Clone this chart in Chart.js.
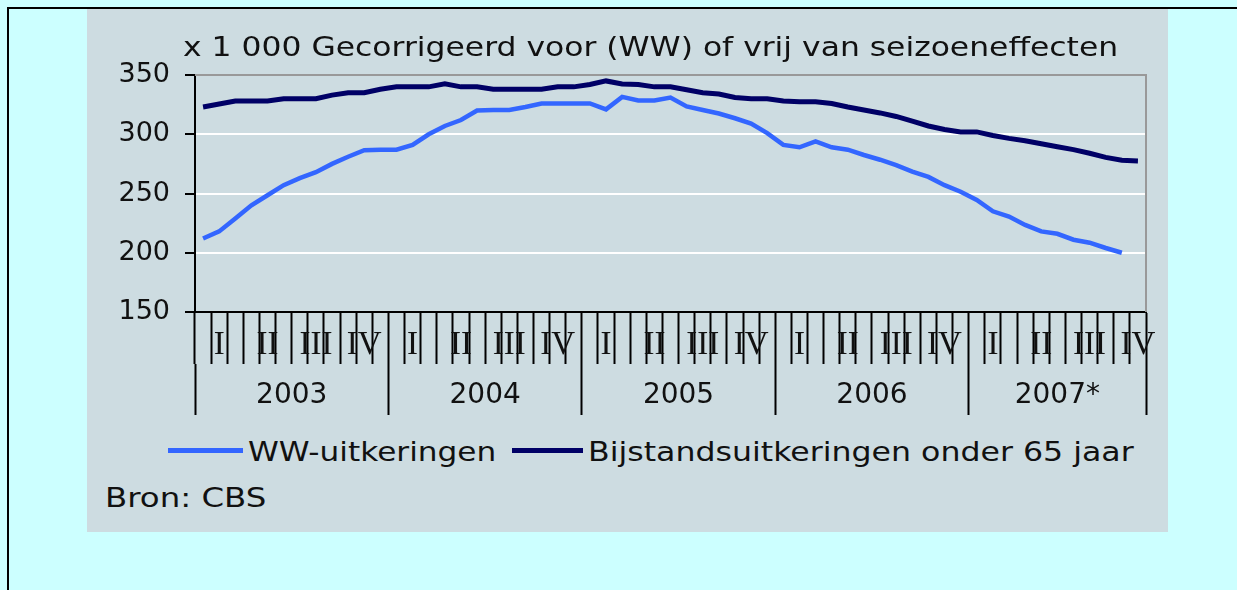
<!DOCTYPE html>
<html lang="nl">
<head>
<meta charset="UTF-8">
<title>WW- en bijstandsuitkeringen</title>
<script src="https://cdn.jsdelivr.net/npm/chart.js"></script>
<style>
    body { margin: 0; width: 1237px; height: 590px; overflow: hidden; background: #ccffff; font-family: 'DejaVu Sans', sans-serif; color: #111; }
    #frame { position: absolute; left: 7px; top: 7px; width: 1230px; height: 583px; border-left: 2px solid #000; border-top: 2px solid #000; }
    #panel { position: absolute; left: 87px; top: 9px; width: 1081px; height: 523px; background: #cddce1; }
    #chart { position: absolute; left: 0; top: 0; }
    .txt { position: absolute; font-size: 27px; line-height: 27px; white-space: nowrap; transform-origin: 0 50%; }
    .swatch { position: absolute; height: 5px; }
</style>
</head>
<body>
<div id="frame"></div>
<div id="panel">
    <canvas id="chart" width="1081" height="420"></canvas>
    <div class="txt" style="left:96px; top:24px; transform:scaleX(1.163);">x 1 000 Gecorrigeerd voor (WW) of vrij van seizoeneffecten</div>
    <div class="swatch" style="left:81px; top:439px; width:75px; background:#3366ff;"></div>
    <div class="txt" style="left:161px; top:429px; transform:scaleX(1.154);">WW-uitkeringen</div>
    <div class="swatch" style="left:425px; top:439px; width:71px; background:#000066;"></div>
    <div class="txt" style="left:501px; top:429px; transform:scaleX(1.17);">Bijstandsuitkeringen onder 65 jaar</div>
    <div class="txt" style="left:18px; top:475px; transform:scaleX(1.2);">Bron: CBS</div>
</div>

<script>
    // years on the axis and how many months each one covers (2007 runs to November)
    const years = ['2003', '2004', '2005', '2006', '2007*'];
    const monthsPerYear = [12, 12, 12, 12, 11];
    const quarterLabels = ['I', 'II', 'III', 'IV'];

    // x 1 000, monthly, seasonally adjusted
    const wwUitkeringen = [
        212, 218, 229, 240, 248.5, 257, 263, 268, 275, 281, 286.5, 287,
        287, 291, 300, 307, 312, 320, 320.5, 320.5, 323, 326, 326, 326,
        326, 321, 331.5, 328.5, 328.5, 331, 323.5, 320.5, 317.5, 313.5, 309, 301,
        291, 289, 294, 289, 287, 282.5, 278.5, 274, 268.5, 264, 257, 251.5,
        244.5, 235, 230.5, 223.5, 218, 216, 211, 208.5, 204, 200, null
    ];
    const bijstand = [
        323, 325.5, 328, 328, 328, 330, 330, 330, 333, 335, 335, 338,
        340, 340, 340, 342.5, 340, 340, 338, 338, 338, 338, 340, 340,
        342, 345, 342.5, 342, 340, 340, 337.5, 335, 334, 331, 330, 330,
        328, 327.5, 327.5, 326, 323, 320.5, 318, 315, 311, 307, 304, 302,
        302, 299, 296.5, 294.5, 292, 289.5, 287, 284, 280.5, 278, 277.5
    ];

    // month categories, plus year boundaries / centres in month units
    const months = [];
    const yearEdges = [-0.5];
    const yearMids = [];
    years.forEach((y, i) => {
        const start = months.length;
        for (let m = 0; m < monthsPerYear[i]; m++) months.push(y.replace('*', '') + '-' + (m + 1));
        yearEdges.push(months.length - 0.5);
        yearMids.push((start - 0.5 + months.length - 0.5) / 2);
    });

    const font = { family: 'DejaVu Sans', size: 27 };

    // grey top and right edge of the plot area
    const plotFrame = {
        id: 'plotFrame',
        beforeDatasetsDraw(chart) {
            const a = chart.chartArea, c = chart.ctx;
            c.save();
            c.strokeStyle = '#999999';
            c.lineWidth = 2;
            c.beginPath();
            c.moveTo(a.left, a.top);
            c.lineTo(a.right, a.top);
            c.lineTo(a.right, a.bottom);
            c.stroke();
            c.restore();
        }
    };

    new Chart(document.getElementById('chart'), {
        type: 'line',
        data: {
            labels: months,
            datasets: [
                { label: 'WW-uitkeringen', data: wwUitkeringen, borderColor: '#3366ff', borderWidth: 4.5 },
                { label: 'Bijstandsuitkeringen onder 65 jaar', data: bijstand, borderColor: '#000066', borderWidth: 5 }
            ]
        },
        options: {
            responsive: false,
            animation: false,
            layout: { padding: { top: 66, right: 22, left: 0, bottom: 0 } },
            elements: { point: { radius: 0 }, line: { tension: 0 } },
            plugins: { legend: { display: false }, tooltip: { enabled: false } },
            scales: {
                y: {
                    min: 150, max: 350,
                    ticks: { stepSize: 50, font: font, color: '#111', padding: 15 },
                    grid: {
                        color: ctx => (ctx.tick.value === 150 || ctx.tick.value === 350) ? 'transparent' : '#ffffff',
                        lineWidth: 2, tickLength: 10, tickColor: '#000', tickWidth: 2
                    },
                    border: { color: '#000', width: 2 },
                    afterFit: s => { s.width = 108; }
                },
                x: {
                    offset: true,
                    ticks: {
                        autoSkip: false, maxRotation: 0, padding: -38,
                        font: { family: 'Liberation Serif', size: 33 }, color: '#111',
                        callback: (v, i) => {
                            const k = i % 12;
                            return k % 3 === 1 ? quarterLabels[(k - 1) / 3] : '';
                        }
                    },
                    grid: { offset: true, drawOnChartArea: false, tickLength: 52, tickColor: '#000', tickWidth: 2 },
                    border: { color: '#000', width: 2 },
                    afterFit: s => { s.height = 52; }
                },
                x2: {
                    type: 'linear', position: 'bottom',
                    min: yearEdges[0], max: yearEdges[yearEdges.length - 1],
                    afterBuildTicks: s => {
                        s.ticks = yearEdges.concat(yearMids).sort((a, b) => a - b).map(v => ({ value: v }));
                    },
                    ticks: {
                        autoSkip: false, maxRotation: 0, padding: -36, font: { family: 'DejaVu Sans', size: 28 }, color: '#111',
                        callback: v => { const i = yearMids.indexOf(v); return i >= 0 ? years[i] : ''; }
                    },
                    grid: {
                        drawOnChartArea: false, tickLength: 51, tickWidth: 2,
                        tickColor: ctx => yearEdges.includes(ctx.tick.value) ? '#000' : 'transparent'
                    },
                    border: { display: false },
                    afterFit: s => { s.height = 65; }
                }
            }
        },
        plugins: [plotFrame]
    });
</script>
</body>
</html>
